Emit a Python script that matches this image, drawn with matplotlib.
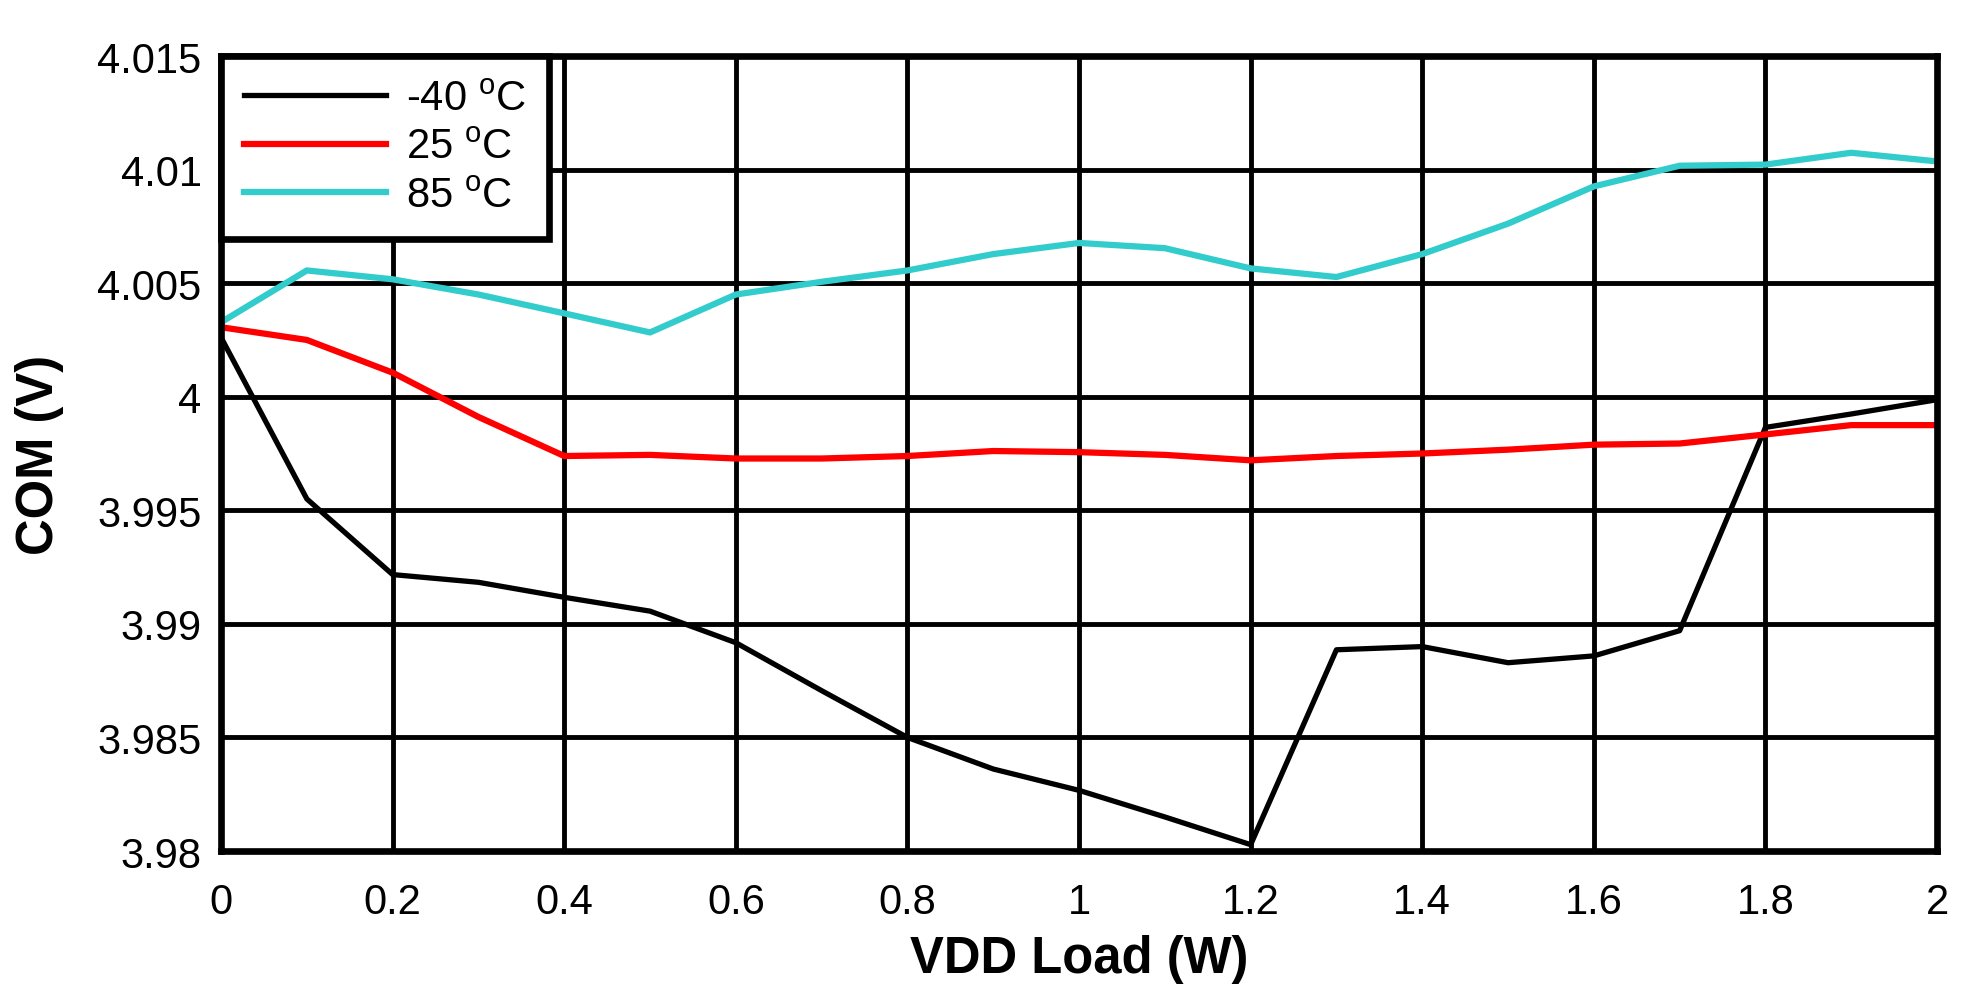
import matplotlib
matplotlib.use('Agg')
import matplotlib.pyplot as plt
import numpy as np

plt.rcParams['font.family'] = ['Liberation Sans', 'DejaVu Sans']
plt.rcParams['mathtext.fontset'] = 'custom'
plt.rcParams['mathtext.rm'] = 'Liberation Sans'

# VDD load (W)
load = [0, 0.1, 0.2, 0.3, 0.4, 0.5, 0.6, 0.7, 0.8, 0.9, 1.0,
        1.1, 1.2, 1.3, 1.4, 1.5, 1.6, 1.7, 1.8, 1.9, 2.0]

# COM voltage (V) per temperature
com_m40 = [4.00261, 3.9955, 3.99217, 3.99183, 3.99117, 3.99056, 3.98917, 3.98706,
           3.985, 3.98361, 3.98267, 3.9815, 3.98028, 3.98886, 3.9890, 3.98829,
           3.98859, 3.9897, 3.99865, 3.99924, 3.99987]
com_25 = [4.00306, 4.0025, 4.00106, 3.99911, 3.99739, 3.99744, 3.99728, 3.99728,
          3.99739, 3.99761, 3.99756, 3.99744, 3.9972, 3.99739, 3.9975, 3.99767,
          3.99789, 3.99794, 3.99834, 3.99875, 3.99875]
com_85 = [4.00328, 4.00556, 4.00517, 4.0045, 4.00367, 4.00283, 4.0045, 4.00506,
          4.00556, 4.00628, 4.00677, 4.00654, 4.00565, 4.00527, 4.00628, 4.00762,
          4.00926, 4.01017, 4.01022, 4.01074, 4.01036]

labels = ['-40 $^{\\mathrm{o}}$C', '25 $^{\\mathrm{o}}$C', '85 $^{\\mathrm{o}}$C']
colors = ['black', '#ff0000', '#33cccc']

x_ticks = [0, 0.2, 0.4, 0.6, 0.8, 1, 1.2, 1.4, 1.6, 1.8, 2]
x_tick_labels = ['0', '0.2', '0.4', '0.6', '0.8', '1', '1.2', '1.4', '1.6', '1.8', '2']
y_ticks = [3.98, 3.985, 3.99, 3.995, 4.0, 4.005, 4.01, 4.015]
y_tick_labels = ['3.98', '3.985', '3.99', '3.995', '4', '4.005', '4.01', '4.015']

fig = plt.figure(figsize=(19.79, 9.95), dpi=100)
ax = fig.add_axes([0.1117, 0.1437, 0.8671, 0.799])

ax.plot(load, com_m40, color=colors[0], lw=3.8, label=labels[0], zorder=3)
ax.plot(load, com_25, color=colors[1], lw=4.5, label=labels[1], zorder=3)
ax.plot(load, com_85, color=colors[2], lw=4.5, label=labels[2], zorder=3)

ax.set_xlim(0, 2)
ax.set_ylim(3.98, 4.015)
ax.set_xticks(x_ticks)
ax.set_xticklabels(x_tick_labels)
ax.set_yticks(y_ticks)
ax.set_yticklabels(y_tick_labels)
ax.tick_params(length=0, labelsize=30)
ax.tick_params(axis='y', pad=14)
ax.tick_params(axis='x', pad=22)
ax.grid(True, color='black', lw=3.5)
for s in ax.spines.values():
    s.set_linewidth(4.8)
    s.set_zorder(4)

ax.set_xlabel('VDD Load (W)', fontsize=36.5, fontweight='bold', labelpad=9)
ax.set_ylabel('COM (V)', fontsize=36.5, fontweight='bold', labelpad=24)

leg = ax.legend(loc='upper left', borderaxespad=0, fontsize=30, handlelength=3.4,
                handletextpad=0.5, labelspacing=0.2, fancybox=False, framealpha=1,
                borderpad=0.55)
leg.get_frame().set_edgecolor('black')
leg.get_frame().set_linewidth(4.8)
leg.set_zorder(5)

fig.savefig('out.png', dpi=100)
